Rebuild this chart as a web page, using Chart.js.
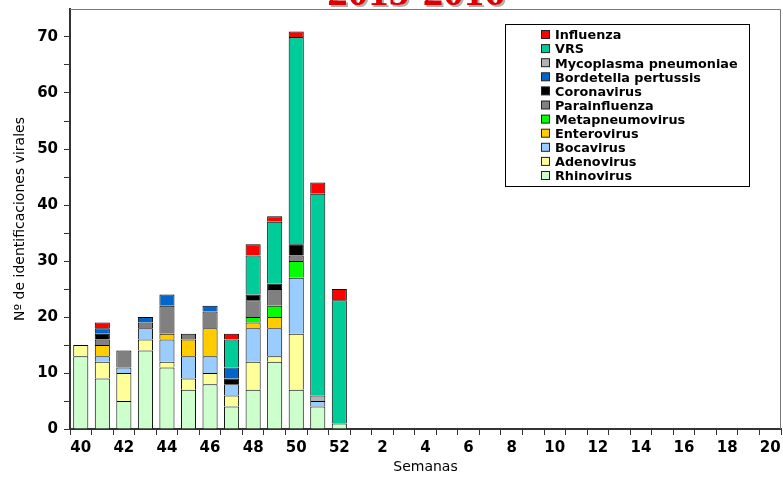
<!DOCTYPE html>
<html>
<head>
<meta charset="utf-8">
<script src="https://cdn.jsdelivr.net/npm/chart.js@4.4.1/dist/chart.umd.min.js"></script>
<style>
  body { margin: 0; background: #fff; }
  #wrap { width: 783px; height: 481px; }
</style>
</head>
<body>
<div id="wrap"><canvas id="virusChart" width="783" height="481"></canvas></div>
<script>
// weeks of the 2015-2016 season
const weeks = ["40", "41", "42", "43", "44", "45", "46", "47", "48", "49", "50", "51", "52",
  "1", "2", "3", "4", "5", "6", "7", "8", "9", "10", "11", "12", "13", "14", "15", "16", "17", "18", "19", "20"];

// counts per week (weeks 40..52; later weeks have no data)
const rhinovirus      = [13, 9, 5, 14, 11, 7, 8, 4, 7, 12, 7, 4, 1];
const adenovirus      = [2, 3, 5, 2, 1, 2, 2, 2, 5, 1, 10, 0, 0];
const bocavirus       = [0, 1, 1, 2, 4, 4, 3, 2, 6, 5, 10, 1, 0];
const enterovirus     = [0, 2, 0, 0, 1, 3, 5, 0, 1, 2, 0, 0, 0];
const metapneumovirus = [0, 0, 0, 0, 0, 0, 0, 0, 1, 2, 3, 0, 0];
const parainfluenza   = [0, 1, 3, 1, 5, 1, 3, 0, 3, 3, 1, 0, 0];
const coronavirus     = [0, 1, 0, 0, 0, 0, 0, 1, 1, 1, 2, 0, 0];
const bordetella      = [0, 1, 0, 1, 2, 0, 1, 2, 0, 0, 0, 0, 0];
const mycoplasma      = [0, 0, 0, 0, 0, 0, 0, 0, 0, 0, 0, 1, 0];
const vrs             = [0, 0, 0, 0, 0, 0, 0, 5, 7, 11, 37, 36, 22];
const influenza       = [0, 1, 0, 0, 0, 0, 0, 1, 2, 1, 1, 2, 2];

const yTicks = [0, 10, 20, 30, 40, 50, 60, 70];

const series = [
  { label: "Rhinovirus", data: rhinovirus, color: "#ccffcc" },
  { label: "Adenovirus", data: adenovirus, color: "#ffff99" },
  { label: "Bocavirus", data: bocavirus, color: "#99ccff" },
  { label: "Enterovirus", data: enterovirus, color: "#ffcc00" },
  { label: "Metapneumovirus", data: metapneumovirus, color: "#00ff00" },
  { label: "Parainfluenza", data: parainfluenza, color: "#808080" },
  { label: "Coronavirus", data: coronavirus, color: "#000000" },
  { label: "Bordetella pertussis", data: bordetella, color: "#0066cc" },
  { label: "Mycoplasma pneumoniae", data: mycoplasma, color: "#b2b2b2" },
  { label: "VRS", data: vrs, color: "#00cc99" },
  { label: "Influenza", data: influenza, color: "#ff0000" }
];

const FONT = "'DejaVu Sans', Verdana, sans-serif";

// title (cut at the top) + frame + legend box
const decorPlugin = {
  id: "decor",
  afterDraw(chart) {
    const ctx = chart.ctx;
    const a = chart.chartArea;
    ctx.save();

    // thin frame on top and right
    ctx.strokeStyle = "#777";
    ctx.lineWidth = 1;
    ctx.beginPath();
    ctx.moveTo(a.left, a.top + 0.5);
    ctx.lineTo(a.right - 0.5, a.top + 0.5);
    ctx.lineTo(a.right - 0.5, a.bottom);
    ctx.stroke();

    // title
    ctx.font = "bold 41px 'Liberation Serif', serif";
    ctx.textAlign = "center";
    ctx.textBaseline = "alphabetic";
    ctx.fillStyle = "#b0b0b0";
    ctx.fillText("2015-2016", 418, 7);
    ctx.fillStyle = "#dd0000";
    ctx.fillText("2015-2016", 416, 5);

    // legend
    const bx = 505, by = 24, bw = 244, bh = 162;
    ctx.fillStyle = "#fff";
    ctx.fillRect(bx, by, bw, bh);
    ctx.strokeStyle = "#000";
    ctx.strokeRect(bx + 0.5, by + 0.5, bw, bh);

    ctx.font = "bold 12.8px " + FONT;
    ctx.textAlign = "left";
    ctx.textBaseline = "middle";
    const items = chart.data.datasets.slice().reverse();
    items.forEach((ds, i) => {
      const cy = 35 + i * 14.1;
      ctx.fillStyle = ds.backgroundColor;
      ctx.fillRect(541.5, cy - 4.5, 8, 8);
      ctx.strokeStyle = "#222";
      ctx.strokeRect(541.5, cy - 4.5, 8, 8);
      ctx.fillStyle = "#000";
      ctx.fillText(ds.label, 555, cy + 1);
    });
    ctx.restore();
  }
};

const ctx = document.getElementById("virusChart").getContext("2d");
new Chart(ctx, {
  type: "bar",
  data: {
    labels: weeks,
    datasets: series.map(s => ({
      label: s.label,
      data: s.data.map(v => (v === 0 ? null : v)),
      backgroundColor: s.color,
      borderColor: "#000",
      borderWidth: { top: 1, left: 1, right: 1, bottom: 0 },
      borderSkipped: false,
      barPercentage: 0.7,
      categoryPercentage: 1.0
    }))
  },
  options: {
    responsive: false,
    animation: false,
    layout: { padding: { top: 9, right: 2, left: 0, bottom: 0 } },
    plugins: {
      legend: { display: false },
      tooltip: { enabled: false }
    },
    scales: {
      x: {
        stacked: true,
        grid: { offset: true, drawOnChartArea: false, tickLength: 6, color: "#333" },
        border: { color: "#333", width: 2 },
        ticks: {
          autoSkip: false,
          maxRotation: 0,
          padding: 4,
          color: "#000",
          font: { family: FONT, size: 15, weight: "bold" },
          callback: (v, i) => (i % 2 === 0 ? weeks[i] : "")
        },
        title: {
          display: true,
          text: "Semanas",
          color: "#000",
          padding: { top: 0, bottom: 5 },
          font: { family: FONT, size: 14 }
        },
        afterFit: s => { s.height = 52; s.paddingLeft = 0; s.paddingRight = 0; }
      },
      y: {
        stacked: true,
        min: 0,
        max: 75,
        grid: { drawOnChartArea: false, tickLength: 6, color: "#333" },
        border: { color: "#333", width: 2 },
        ticks: {
          stepSize: 5,
          padding: 6,
          color: "#000",
          font: { family: FONT, size: 15, weight: "bold" },
          callback: v => (yTicks.includes(v) ? v : "")
        },
        afterBuildTicks: s => { s.ticks = s.ticks.filter(t => t.value < 75); },
        title: {
          display: true,
          text: "Nº de identificaciones virales",
          color: "#000",
          padding: { top: 12, bottom: 0 },
          font: { family: FONT, size: 14 }
        },
        afterFit: s => { s.width = 70; s.paddingTop = 0; s.paddingBottom = 0; }
      }
    }
  },
  plugins: [decorPlugin]
});
</script>
</body>
</html>
